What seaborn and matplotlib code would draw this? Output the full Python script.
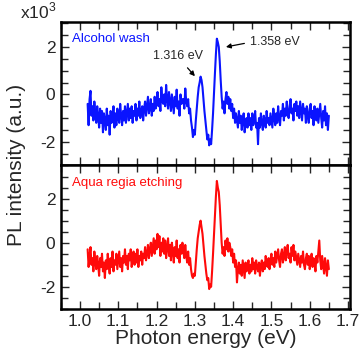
import numpy as np
import pandas as pd
import matplotlib
matplotlib.use('Agg')
import matplotlib.pyplot as plt
from matplotlib.ticker import MultipleLocator
import seaborn as sns

# energy grid (eV), values in units of 10^3
energy_start = 1.02
energy_step = 0.0025

alcohol_wash = [
    -0.4, -1.3, -0.2, 0.15, -0.9, -0.5, -1.1, -0.3, -0.8, -1.2,
    -0.5, -0.9, -1.4, -0.6, -1.2, -0.7, -1.6, -0.8, -1.1, -1.5,
    -0.6, -1.3, -0.9, -1.7, -0.7, -1.2, -1.0, -0.5, -1.4, -0.8,
    -1.3, -0.6, -1.0, -1.2, -0.4, -0.9, -1.3, -0.7, -1.1, -0.5,
    -1.2, -0.8, -0.4, -1.1, -0.6, -1.0, -0.5, -1.2, -0.7, -0.9,
    -0.4, -1.1, -0.6, -0.9, -0.3, -1.0, -0.7, -0.5, -1.1, -0.6,
    -0.3, -0.9, -0.5, -0.1, -0.8, -0.6, -0.2, -0.9, -0.4, -0.7,
    -0.1, -0.6, -0.3, 0.1, -0.5, -0.2, -0.7, 0.3, -0.3, -0.4,
    0.0, -0.5, 0.4, -0.2, -0.6, 0.1, -0.3, -0.7, 0.0, -0.4,
    -0.8, -0.1, -0.5, 0.2, -0.6, -0.3, -0.9, 0.0, -0.4, -0.2,
    -0.2, -0.6, 0.25, -0.3, -0.5, -0.2, -0.8, -0.6, -1.1, -1.4,
    -1.8, -1.5, -1.7, -1.1, -0.6, -0.1, 0.3, 0.5, 0.75, 0.6,
    0.3, -0.2, -0.7, -1.1, -1.5, -1.9, -1.7, -2.15, -1.9, -2.1,
    -1.5, -0.8, 0.1, 0.9, 1.7, 2.35, 2.2, 2.0, 1.4, 0.6,
    -0.1, -0.6, -0.3, -0.8, -0.2, 0.1, -0.4, -0.1, -0.6, -0.2,
    -0.7, -0.4, -1.0, -0.6, -1.2, -0.8, -1.1, -1.4, -0.7, -1.2,
    -0.9, -1.5, -1.1, -0.8, -1.6, -1.2, -1.0, -1.4, -0.8, -1.3,
    -1.0, -1.5, -0.8, -1.3, -1.1, -0.7, -1.4, -1.2, -2.1, -1.0,
    -1.4, -0.8, -1.2, -1.5, -0.9, -1.1, -1.4, -0.7, -1.2, -1.0,
    -1.3, -0.8, -1.1, -1.4, -0.6, -1.0, -1.3, -0.8, -1.2, -0.5,
    -1.0, -1.3, -0.7, -0.9, -0.4, -1.1, -0.6, -0.9, -0.3, -0.8,
    -1.0, -0.5, -0.2, -0.8, -0.6, -1.1, -0.4, -0.7, -0.3, -0.9,
    -0.5, -1.0, -0.3, -0.7, -1.1, -0.4, -0.8, -0.6, -1.2, -0.5,
    -0.9, -1.2, -0.6, -0.4, -1.0, -0.7, -1.3, -0.5, -0.9, -1.1,
    -0.6, -1.2, -0.8, -0.4, -1.0, -1.4, -0.7, -1.1, -0.5, -1.3,
    -0.8, -1.5, -0.9,
]

aqua_regia = [
    -0.3, -1.1, -0.6, -0.2, -1.0, -0.7, -1.3, -0.4, -0.9, -1.2,
    -0.6, -1.0, -1.5, -0.7, -1.1, -0.5, -1.3, -0.9, -1.6, -0.8,
    -1.2, -0.5, -1.0, -1.4, -0.7, -1.1, -0.4, -1.3, -0.8, -1.0,
    -0.5, -1.2, -0.8, -0.4, -1.1, -0.7, -1.3, -0.6, -0.9, -0.3,
    -1.0, -0.6, -1.2, -0.5, -0.8, -0.3, -1.1, -0.7, -0.4, -1.0,
    -0.5, -0.9, -0.3, -1.1, -0.6, -0.8, -0.4, -1.0, -0.5, -0.7,
    -0.2, -0.8, -0.5, -0.1, -0.7, -0.3, 0.0, -0.6, -0.2, 0.2,
    -0.5, 0.1, -0.3, 0.4, -0.2, 0.3, -0.6, 0.0, -0.4, 0.2,
    -0.5, 0.1, -0.7, -0.2, 0.2, -0.6, -0.1, -0.8, 0.0, -0.4,
    -0.9, -0.2, -0.6, 0.1, -0.7, -0.3, -0.9, -0.1, -0.5, 0.0,
    -0.4, -0.7, -0.1, -0.6, -0.9, -0.4, -1.0, -0.7, -1.2, -1.5,
    -1.6, -1.4, -1.5, -0.9, -0.3, 0.2, 0.5, 0.8, 1.0, 0.7,
    0.4, -0.1, -0.6, -1.0, -1.4, -1.7, -1.6, -2.1, -1.9, -2.0,
    -1.3, -0.5, 0.4, 1.3, 2.1, 2.8, 2.5, 2.3, 1.7, 0.8,
    0.0, -0.5, -0.2, -0.6, 0.1, -0.3, 0.2, -0.4, 0.0, -0.2,
    -0.6, -0.3, -0.9, -0.5, -1.1, -0.8, -1.8, -1.2, -0.9, -1.4,
    -1.0, -1.5, -0.8, -1.2, -1.6, -0.9, -1.3, -1.1, -0.8, -1.4,
    -1.0, -1.3, -0.7, -1.2, -0.9, -1.4, -0.8, -1.1, -1.3, -0.9,
    -1.5, -1.0, -0.8, -1.3, -0.9, -1.2, -0.6, -1.0, -1.1, -0.7,
    -1.2, -0.8, -0.5, -1.0, -0.7, -1.1, -0.4, -0.9, -0.6, -0.3,
    -0.8, -1.1, -0.5, -0.3, -0.9, -0.6, -0.2, -0.8, -0.4, -0.1,
    -0.7, -0.5, -0.9, -0.2, -0.6, -0.1, -0.8, -0.4, -0.7, -1.0,
    -0.5, -0.8, -1.1, -0.6, -0.9, -0.4, -1.0, -1.2, -0.7, -0.5,
    -1.0, -0.6, -1.2, -0.8, -0.5, -1.1, -0.7, -0.9, -1.3, -0.6,
    -0.9, -0.4, 0.1, -0.8, -1.2, -0.6, -1.0, -1.4, -0.7, -1.1,
    -1.5, -0.8, -1.2,
]

energy = energy_start + energy_step * np.arange(len(alcohol_wash))
df = pd.DataFrame({'energy': energy, 'alcohol': alcohol_wash, 'aqua': aqua_regia})

sns.set_style('ticks')
plt.rcParams['font.family'] = ['Liberation Sans', 'DejaVu Sans']
plt.rcParams['axes.unicode_minus'] = False

fig = plt.figure(figsize=(3.6, 3.51), dpi=100)
gs = fig.add_gridspec(2, 1, left=0.169, right=0.972, top=0.937, bottom=0.12, hspace=0)
ax1 = fig.add_subplot(gs[0])
ax2 = fig.add_subplot(gs[1], sharex=ax1)

sns.lineplot(data=df, x='energy', y='alcohol', ax=ax1, color='#0a14ff', lw=1.5)
sns.lineplot(data=df, x='energy', y='aqua', ax=ax2, color='#ff0a0a', lw=1.5)

ax1.set_ylim(-3, 3.05)
ax2.set_ylim(-3, 3.5)
ax2.set_xlim(0.95, 1.705)

for ax in (ax1, ax2):
    ax.set_xlabel('')
    ax.set_ylabel('')
    for s in ax.spines.values():
        s.set_visible(True)
        s.set_linewidth(1.8)
        s.set_color('black')
    ax.xaxis.set_major_locator(MultipleLocator(0.1))
    ax.xaxis.set_minor_locator(MultipleLocator(0.05))
    ax.yaxis.set_major_locator(MultipleLocator(2))
    ax.yaxis.set_minor_locator(MultipleLocator(0.5))
    ax.tick_params(which='both', direction='in', top=True, right=True,
                   width=1.0, labelsize=12.5, pad=4)
    ax.tick_params(which='major', length=6)
    ax.tick_params(which='minor', length=5)

ax1.tick_params(labelbottom=False)
ax2.set_xticks([1.0, 1.1, 1.2, 1.3, 1.4, 1.5, 1.6, 1.7])
ax2.set_xticklabels(['1.0', '1.1', '1.2', '1.3', '1.4', '1.5', '1.6', '1.7'])

ax1.text(0.04, 0.88, 'Alcohol wash', transform=ax1.transAxes, color='#0a14ff', fontsize=9.5, va='center')
ax2.text(0.04, 0.88, 'Aqua regia etching', transform=ax2.transAxes, color='#ff0a0a', fontsize=9.5, va='center')

arrow = dict(arrowstyle='-|>', color='black', lw=0.9, mutation_scale=7)
ax1.annotate('1.316 eV', xy=(1.305, 0.68), xytext=(1.19, 1.6), fontsize=9,
             va='center', ha='left', arrowprops=dict(arrow, relpos=(0.6, 0.0)))
ax1.annotate('1.358 eV', xy=(1.374, 1.98), xytext=(1.445, 2.2), fontsize=9,
             va='center', ha='left', arrowprops=dict(arrow, relpos=(0.0, 0.5)))

ax2.set_xlabel('Photon energy (eV)', fontsize=15, labelpad=0)
fig.text(0.047, 0.53, 'PL intensity (a.u.)', rotation=90, fontsize=15, ha='center', va='center')
fig.text(0.055, 0.94, r'x10$^{\mathregular{3}}$', fontsize=12.5, ha='left', va='bottom')

fig.savefig('out.png', dpi=100)
